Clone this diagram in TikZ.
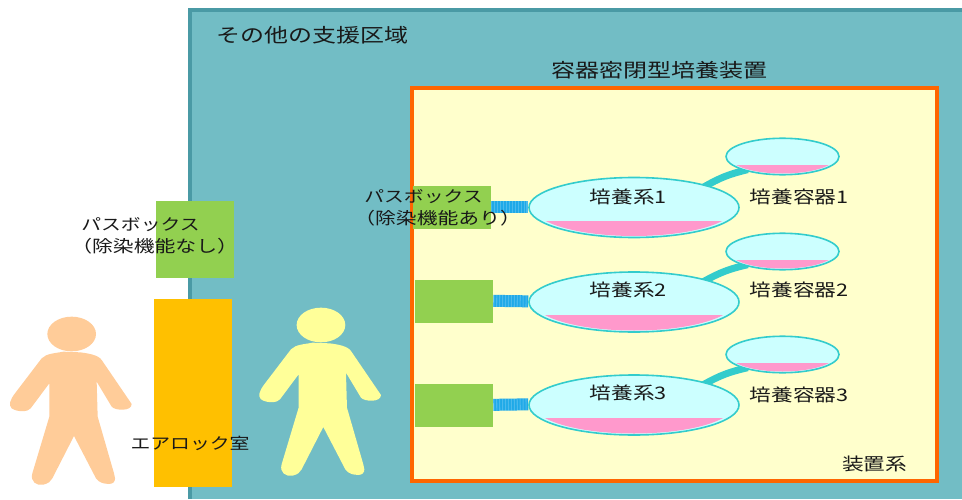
\documentclass[tikz,border=0pt]{standalone}
\usepackage{fontspec}
\usetikzlibrary{shapes.geometric}
\newfontfamily\jpfont[FakeStretch=1.25]{Noto Sans CJK JP}
\definecolor{areafill}{HTML}{72BDC5}
\definecolor{arealine}{HTML}{4A9AA5}
\definecolor{sysline}{HTML}{FF6600}
\definecolor{sysfill}{HTML}{FFFFCC}
\definecolor{boxgreen}{HTML}{92D050}
\definecolor{lockamber}{HTML}{FFC000}
\definecolor{vesselfill}{HTML}{CCFFFF}
\definecolor{vesselline}{HTML}{33CCCC}
\definecolor{mediumpink}{HTML}{FF99CC}
\definecolor{tubeblue}{HTML}{1FA9E8}
\definecolor{peach}{HTML}{FFCC99}
\definecolor{paleyellow}{HTML}{FFFF99}
\pgfdeclarelayer{backlayer}
\pgfdeclarelayer{connlayer}
\pgfsetlayers{backlayer,connlayer,main}
\tikzset{
  x=0.75pt,y=-0.75pt,
  jp size/.style={inner sep=0pt,text=black!90,font=\jpfont\fontsize{#1}{16pt}\selectfont},
  label text/.style={jp size=13pt},
  kana text/.style={jp size=11.9pt},
  paren text/.style={jp size=12.5pt},
  big text/.style={jp size=14.4pt},
  greenbox/.style={fill=boxgreen,draw=none,inner sep=0pt,minimum width=78*0.75pt,minimum height=43*0.75pt},
  culture/.style={ellipse,draw=vesselline,line width=1.2pt,fill=vesselfill,inner sep=0pt,minimum width=210*0.75pt,minimum height=60*0.75pt},
  vessel/.style={ellipse,draw=vesselline,line width=1.2pt,fill=vesselfill,inner sep=0pt,minimum width=113*0.75pt,minimum height=36.5*0.75pt},
  tube/.style={line width=12*0.75pt,draw=tubeblue},
  tube dots/.style={line width=12*0.75pt,draw=white,opacity=0.2,dash pattern=on 0.8pt off 1.4pt},
  stem/.style={line width=7*0.75pt,draw=vesselline,shorten <=-3pt,shorten >=-3pt},
  person/.pic={
    \begin{scope}[xscale=1/3,yscale=1/3]
      \fill[pic actions] (215,432) ellipse [x radius=73,y radius=52];
      \fill[pic actions] (190,485) .. controls (165,490) and (140,490) .. (125,505)
        -- (45,610) .. controls (30,630) and (25,645) .. (35,655)
        .. controls (55,668) and (85,665) .. (92,655)
        -- (148,580) -- (148,680) -- (97,850)
        .. controls (90,875) and (110,888) .. (130,884)
        .. controls (145,880) and (152,875) .. (157,865)
        -- (222,738) -- (288,865)
        .. controls (295,878) and (325,888) .. (340,878)
        .. controls (348,870) and (345,860) .. (342,850)
        -- (293,680) -- (290,575) -- (335,650)
        .. controls (345,662) and (395,665) .. (395,642)
        -- (305,510) .. controls (295,495) and (265,490) .. (240,487) -- cycle;
    \end{scope}
  }
}
\begin{document}
\begin{tikzpicture}
\useasboundingbox (0,0) rectangle (962,499);
\begin{pgfonlayer}{backlayer}
\fill[white] (0,0) rectangle (962,499);
\path[fill=areafill] (190,10.5) rectangle (962,499);
\draw[arealine,line width=4*0.75pt] (190,499) -- (190,10.5) -- (962,10.5);
\node[draw=sysline,fill=sysfill,line width=4*0.75pt,inner sep=0pt,minimum width=525*0.75pt,minimum height=393*0.75pt] (system) at (674.5,284.5) {};
\pic[fill=peach] at (0,190) {person};
\pic[fill=paleyellow] at (249.3,181) {person};
\end{pgfonlayer}
\node[greenbox,minimum height=77*0.75pt] (passoutside) at (195,239.5) {};
\node[fill=lockamber,inner sep=0pt,minimum width=78*0.75pt,minimum height=188*0.75pt] (airlock) at (193,393) {};
\foreach \n/\cy/\vy/\by/\bx in {1/207.5/156.5/207.5/452,2/302/251.5/301.5/454,3/405/354.5/405.5/454}{
  \node[greenbox] (pass\n) at (\bx,\by) {};
  \node[culture] (culture\n) at (634,\cy) {};
  \node[vessel] (vessel\n) at (782.5,\vy) {};
  \begin{scope}
    \clip (520,\cy+13.5) rectangle (750,\cy+40);
    \fill[mediumpink] (634,\cy) ellipse [x radius=100,y radius=28.5];
  \end{scope}
  \begin{scope}
    \clip (720,\vy+8.5) rectangle (850,\vy+30);
    \fill[mediumpink] (782.5,\vy) ellipse [x radius=53.5,y radius=17];
  \end{scope}
  \begin{pgfonlayer}{connlayer}
    \draw[tube] ([yshift=0.5pt]pass\n.east) -- ([yshift=0.5pt]culture\n.west);
    \draw[tube dots] ([yshift=0.5pt]pass\n.east) -- ([yshift=0.5pt]culture\n.west);
    \draw[stem] (culture\n.17) to[bend left=8] (vessel\n.200);
  \end{pgfonlayer}
}
\node[big text,anchor=west] (arealabel) at (216,35) {その他の支援区域};
\node[big text] (systitle) at (659.5,70) {容器密閉型培養装置};
\node[kana text,anchor=west] (passa) at (364,197) {パスボックス};
\node[paren text,anchor=west] (passb) at (354,218) {（除染機能あり）};
\node[kana text,anchor=west] (passc) at (81,225) {パスボックス};
\node[paren text,anchor=west] (passd) at (71,246.5) {（除染機能なし）};
\node[kana text] (lockname) at (190,443) {エアロック室};
\node[label text] (sysname) at (874.5,464) {装置系};
\foreach \n/\ty/\vty in {1/197/197,2/290/290,3/393/395}{
  \node[label text] (culturename\n) at (628.5,\ty) {培養系\n};
  \node[label text] (vesselname\n) at (799,\vty) {培養容器\n};
}
\end{tikzpicture}
\end{document}
